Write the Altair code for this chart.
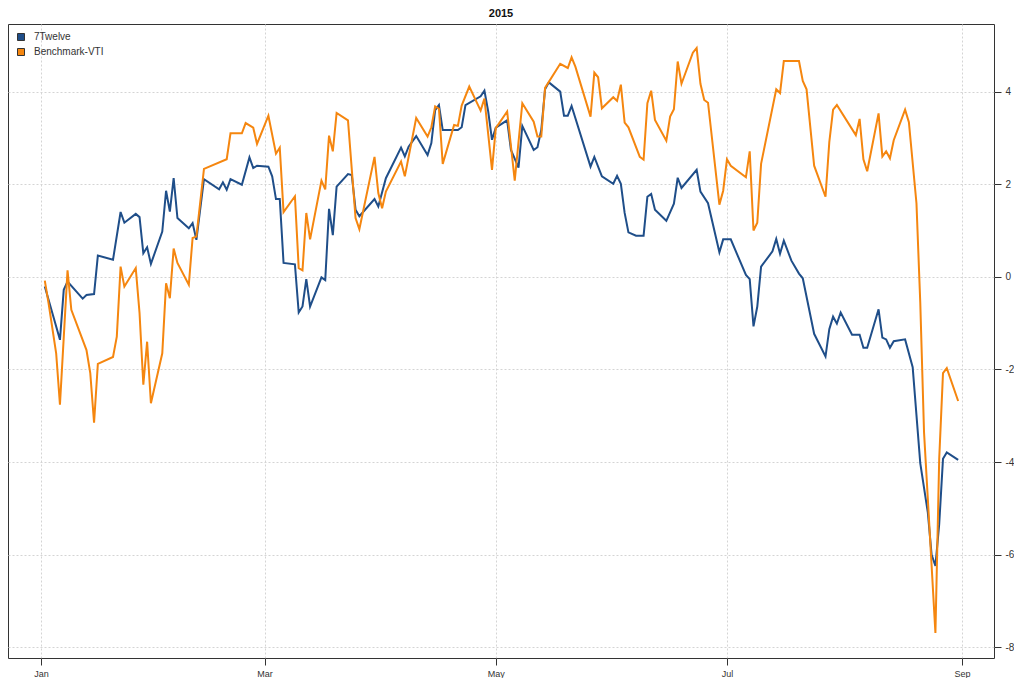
import altair as alt
import pandas as pd

series_names = ["7Twelve", "Benchmark-VTI"]
series_colors = ["#1f4e89", "#f5860f"]

# day offsets from 2015-01-01 and cumulative return (%)
twelve_day = [1, 5, 6, 7, 11, 12, 14, 15, 19, 21, 22, 25, 26, 27, 28, 29, 32, 33, 34, 35,
              36, 39, 40, 41, 43, 47, 48, 49, 50, 53, 55, 56, 57, 60, 61, 62, 63, 64, 67, 68,
              69, 70, 71, 74, 75, 76, 77, 78, 81, 82, 83, 84, 88, 89, 91, 95, 96, 97, 99, 102,
              103, 104, 105, 106, 110, 111, 112, 116, 117, 118, 119, 120, 123, 124, 126, 127, 130, 131, 132, 133,
              134, 137, 138, 139, 140, 145, 146, 148, 151, 152, 153, 154, 155, 157, 159, 160, 161, 162, 165, 167,
              168, 169, 173, 174, 176, 179, 180, 182, 186, 187, 188, 189, 190, 193, 194, 195, 196, 198, 200, 201,
              204, 207, 208, 209, 210, 211, 214, 216, 217, 218, 221, 222, 223, 224, 225, 228, 230, 232, 234, 235,
              236, 237, 238, 239, 242]
twelve_val = [-0.21, -1.36, -0.28, -0.10, -0.47, -0.39, -0.37, 0.46, 0.37, 1.40, 1.17, 1.36, 1.29, 0.51, 0.64, 0.28, 0.98, 1.86, 1.41, 2.13,
              1.27, 1.05, 1.16, 0.80, 2.11, 1.89, 2.04, 1.88, 2.11, 1.99, 2.58, 2.35, 2.40, 2.38, 2.17, 1.68, 1.68, 0.30, 0.27, -0.77,
              -0.64, -0.05, -0.64, -0.01, -0.07, 1.47, 0.90, 1.95, 2.22, 2.20, 1.45, 1.31, 1.68, 1.52, 2.13, 2.79, 2.60, 2.81, 3.04, 2.63,
              2.89, 3.60, 3.71, 3.17, 3.17, 3.23, 3.71, 3.90, 4.02, 3.57, 2.96, 3.22, 3.38, 2.74, 2.36, 3.26, 2.74, 2.80, 3.17, 4.05,
              4.20, 4.00, 3.48, 3.48, 3.69, 2.38, 2.59, 2.17, 2.01, 2.18, 2.01, 1.38, 0.96, 0.89, 0.89, 1.73, 1.79, 1.45, 1.21, 1.58,
              2.14, 1.92, 2.31, 1.84, 1.59, 0.53, 0.81, 0.81, 0.04, -0.05, -1.07, -0.64, 0.22, 0.55, 0.82, 0.50, 0.78, 0.35, 0.07, -0.03,
              -1.23, -1.72, -1.13, -0.86, -1.01, -0.77, -1.25, -1.25, -1.53, -1.53, -0.70, -1.31, -1.35, -1.53, -1.39, -1.35, -1.95, -4.02, -5.09, -6.00,
              -6.24, -5.34, -3.93, -3.79, -3.95]

vti_day = [1, 2, 4, 5, 7, 8, 12, 13, 14, 15, 19, 20, 21, 22, 25, 26, 27, 28, 29, 32,
           33, 34, 35, 36, 39, 40, 41, 43, 49, 50, 53, 54, 56, 57, 60, 62, 63, 64, 67, 68,
           69, 70, 71, 74, 75, 76, 77, 78, 81, 83, 84, 88, 89, 90, 91, 95, 96, 99, 102, 103,
           104, 105, 106, 109, 110, 111, 113, 116, 117, 119, 120, 123, 125, 127, 130, 131, 132, 133, 137, 139,
           140, 141, 145, 146, 147, 148, 151, 152, 153, 154, 155, 158, 159, 160, 161, 162, 165, 166, 167, 168,
           169, 172, 173, 174, 175, 176, 179, 180, 181, 182, 186, 187, 188, 189, 190, 194, 195, 196, 200, 201,
           202, 204, 207, 208, 209, 210, 215, 216, 217, 218, 221, 222, 223, 224, 225, 228, 229, 231, 232, 233,
           235, 236, 237, 238, 239, 242]
vti_val = [-0.08, -0.57, -1.65, -2.76, 0.14, -0.71, -1.58, -2.08, -3.15, -1.88, -1.73, -1.29, 0.22, -0.21, 0.19, -0.78, -2.33, -1.40, -2.73, -1.65,
           -0.14, -0.46, 0.61, 0.30, -0.17, 0.84, 0.87, 2.33, 2.54, 3.10, 3.10, 3.32, 3.22, 2.87, 3.48, 2.66, 2.79, 1.40, 1.74, 0.19,
           0.14, 1.38, 0.81, 2.08, 1.89, 3.05, 2.71, 3.54, 3.38, 1.27, 1.03, 2.59, 1.81, 1.48, 1.84, 2.49, 2.17, 3.43, 3.03, 3.23,
           3.68, 3.63, 2.44, 3.28, 3.26, 3.70, 4.11, 3.59, 3.85, 2.31, 3.21, 3.57, 2.08, 3.75, 3.35, 3.03, 3.03, 4.08, 4.60, 4.51,
           4.74, 4.54, 3.46, 4.41, 4.31, 3.64, 3.88, 3.80, 4.15, 3.33, 3.23, 2.59, 2.53, 3.75, 4.02, 3.39, 2.94, 3.46, 3.62, 4.65,
           4.17, 4.84, 4.94, 4.17, 3.82, 3.76, 1.56, 1.86, 2.54, 2.40, 2.15, 2.71, 1.00, 1.17, 2.44, 4.05, 3.97, 4.66, 4.66, 4.23,
           4.05, 2.40, 1.73, 2.91, 3.61, 3.71, 3.06, 3.41, 2.54, 2.28, 3.53, 2.60, 2.71, 2.56, 2.95, 3.61, 3.34, 1.59, -0.55, -3.36,
           -6.24, -7.69, -3.93, -2.08, -1.97, -2.68]

y_ticks = [-8, -6, -4, -2, 0, 2, 4]
x_tick_months = [1, 3, 5, 7, 9]

base = pd.Timestamp("2015-01-01")


def series_frame(days, vals, name):
    return pd.DataFrame({
        "date": base + pd.to_timedelta(days, unit="D"),
        "value": vals,
        "series": name,
    })


df = pd.concat([
    series_frame(twelve_day, twelve_val, series_names[0]),
    series_frame(vti_day, vti_val, series_names[1]),
], ignore_index=True)

legend_df = pd.DataFrame({"label": series_names})

FONT = "Liberation Sans"
grid_color = "#d4d4d4"

x_enc = alt.X(
    "date:T",
    scale=alt.Scale(domain=[alt.DateTime(year=2014, month=12, date=23, hours=7),
                            alt.DateTime(year=2015, month=9, date=9, hours=11)]),
    axis=alt.Axis(
        values=[alt.DateTime(year=2015, month=m, date=1) for m in x_tick_months],
        format="%b", title=None, tickSize=7, tickColor="#333333",
        labelFontSize=9, labelColor="#333333", labelFont=FONT, labelPadding=4,
        grid=True, gridColor=grid_color, gridDash=[2, 2], domain=False,
    ),
)
y_enc = alt.Y(
    "value:Q",
    scale=alt.Scale(domain=[-8.23, 5.46], nice=False, zero=False),
    axis=alt.Axis(
        orient="right", values=y_ticks, title=None, tickSize=7, tickColor="#333333",
        labelFontSize=10, labelColor="#333333", labelFont=FONT, labelPadding=4,
        labelExpr="'' + datum.value",
        grid=True, gridColor=grid_color, gridDash=[2, 2], domain=False,
    ),
)

lines = alt.Chart(df).mark_line(strokeWidth=2).encode(
    x=x_enc,
    y=y_enc,
    color=alt.Color("series:N", scale=alt.Scale(domain=series_names, range=series_colors), legend=None),
)

legend_layer = alt.Chart(legend_df).mark_square(opacity=0, size=0).encode(
    shape=alt.Shape(
        "label:N",
        scale=alt.Scale(domain=series_names, range=["square", "square"]),
        legend=None,
    ),
    fill=alt.Fill(
        "label:N",
        scale=alt.Scale(domain=series_names, range=series_colors),
        legend=alt.Legend(
            title=None, orient="top-left", offset=8, padding=0,
            symbolType="square", symbolSize=49, symbolOpacity=1,
            symbolStrokeColor="#333333", symbolStrokeWidth=1,
            labelFontSize=10, labelFont=FONT, labelColor="#333333",
            labelOffset=8, rowPadding=3,
        ),
    ),
)

chart = alt.layer(lines, legend_layer).resolve_legend(
    fill="independent", color="independent", shape="independent"
).properties(
    width=986,
    height=634,
    padding=0,
    title=alt.TitleParams("2015", fontSize=11, fontWeight="bold", font=FONT,
                          color="#111111", offset=5, anchor="middle"),
).configure_view(stroke="#333333", strokeWidth=1)

chart.save("out.html", embed_options={"renderer": "svg", "actions": False})
